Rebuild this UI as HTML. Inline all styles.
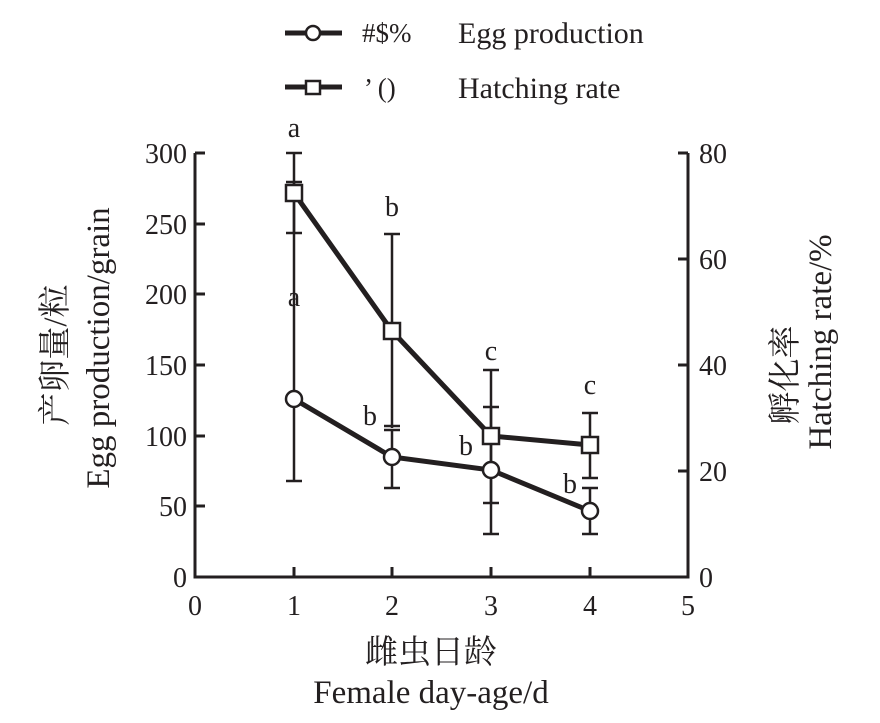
<!DOCTYPE html>
<html><head><meta charset="utf-8"><style>body{margin:0;background:#fff}</style></head><body>
<svg width="880" height="718" xmlns="http://www.w3.org/2000/svg" font-family="Liberation Serif, Noto Serif CJK SC, serif" fill="#231f20">
<g stroke="#231f20" stroke-width="3" fill="none">
<path d="M195 153V577H688V153"/>
<path d="M195 153h10M195 224h10M195 294h10M195 365h10M195 436h10M195 506h10"/>
<path d="M688 153h-10M688 259h-10M688 365h-10M688 471h-10"/>
<path d="M294 577v-10M392 577v-10M491 577v-10M590 577v-10"/>
</g>
<g stroke="#231f20" stroke-width="2.5" fill="none">
<path d="M294 153v80M286 153h16M286 233h16"/>
<path d="M294 182v299M286 182h16M286 481h16"/>
<path d="M392 234v194M384 234h16M384 426h16"/>
<path d="M392 430v58M384 430h16M384 488h16"/>
<path d="M491 370v133M483 370h16M483 503h16"/>
<path d="M491 407v127M483 407h16M483 534h16"/>
<path d="M590 413v65M582 413h16M582 478h16"/>
<path d="M590 488v46M582 488h16M582 534h16"/>
</g>
<g stroke="#231f20" stroke-width="5" fill="none">
<polyline points="294,193 392,331 491,436 590,445"/>
<polyline points="294,399 392,457 491,470 590,511"/>
</g>
<g stroke="#231f20" stroke-width="2.5" fill="#fff">
<rect x="286" y="185" width="16" height="16"/><rect x="384" y="323" width="16" height="16"/><rect x="483" y="428" width="16" height="16"/><rect x="582" y="437" width="16" height="16"/>
<circle cx="294" cy="399" r="8"/><circle cx="392" cy="457" r="8"/><circle cx="491" cy="470" r="8"/><circle cx="590" cy="511" r="8"/>
</g>
<g font-size="28" text-anchor="end">
<text x="187" y="163">300</text><text x="187" y="234">250</text><text x="187" y="304">200</text><text x="187" y="375">150</text><text x="187" y="446">100</text><text x="187" y="516">50</text><text x="187" y="587">0</text>
</g>
<g font-size="28">
<text x="699" y="163">80</text><text x="699" y="269">60</text><text x="699" y="375">40</text><text x="699" y="481">20</text><text x="699" y="587">0</text>
</g>
<g font-size="28" text-anchor="middle">
<text x="195" y="615">0</text><text x="294" y="615">1</text><text x="392" y="615">2</text><text x="491" y="615">3</text><text x="590" y="615">4</text><text x="688" y="615">5</text>
<text x="294" y="137">a</text><text x="294" y="306">a</text><text x="392" y="216">b</text><text x="370" y="425">b</text><text x="491" y="360">c</text><text x="466" y="455">b</text><text x="590" y="394">c</text><text x="570" y="493">b</text>
<text x="431" y="663" font-size="33">雌虫日龄</text>
<text x="431" y="703" font-size="33">Female day-age/d</text>
</g>
<text transform="translate(66 355) rotate(-90)" font-size="33" text-anchor="middle">产卵量/粒</text>
<text transform="translate(109 348) rotate(-90)" font-size="33" text-anchor="middle">Egg production/grain</text>
<text transform="translate(796 375) rotate(-90)" font-size="33" text-anchor="middle">孵化率</text>
<text transform="translate(831 342) rotate(-90)" font-size="33" text-anchor="middle">Hatching rate/%</text>
<g stroke="#231f20" fill="none">
<path d="M285 33h57M285 87h57" stroke-width="5"/>
<circle cx="313" cy="33" r="7" fill="#fff" stroke-width="2.5"/>
<rect x="306" y="81" width="14" height="13" fill="#fff" stroke-width="2.5"/>
</g>
<text x="362" y="42" font-size="27">#$%</text>
<text x="364" y="97" font-size="27">’ ()</text>
<text x="458" y="43" font-size="30">Egg production</text>
<text x="458" y="98" font-size="30">Hatching rate</text>
</svg>
</body></html>
